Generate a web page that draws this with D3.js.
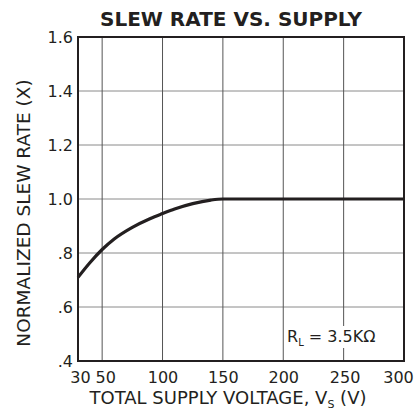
<!DOCTYPE html>
<html>
<head>
<meta charset="utf-8">
<script src="https://cdn.jsdelivr.net/npm/d3@7"></script>
<style>
  body { margin: 0; background: #fff; }
  svg text { font-family: "DejaVu Sans", sans-serif; fill: #231f20; }
</style>
</head>
<body>
<svg id="chart" width="417" height="413"></svg>
<script>
// supply voltage (V) vs normalized slew rate
var voltage = [30, 40, 50, 60, 75, 90, 100, 110, 125, 140, 150, 200, 250, 300];
var slewRate = [0.71, 0.765, 0.813, 0.852, 0.895, 0.928, 0.946, 0.963, 0.983, 0.996, 1.0, 1.0, 1.0, 1.0];
var xTicks = [30, 50, 100, 150, 200, 250, 300];
var xTickShift = [2, 3, 0, 0, 0, 1, -6];
var xGrid = [50, 100, 150, 200, 250];
var yTicks = [0.4, 0.6, 0.8, 1.0, 1.2, 1.4, 1.6];
var yTickLabels = [".4", ".6", ".8", "1.0", "1.2", "1.4", "1.6"];
var yGrid = [0.6, 0.8, 1.0, 1.2, 1.4];

var svg = d3.select("#chart");
var plotL = 78, plotR = 404, plotT = 37, plotB = 361;

var x = d3.scaleLinear().domain([30, 300]).range([plotL, plotR]);
var y = d3.scaleLinear().domain([0.4, 1.6]).range([plotB, plotT]);

// grid
svg.append("g").selectAll("line")
    .data(yGrid).enter().append("line")
    .attr("x1", plotL).attr("x2", plotR)
    .attr("y1", function(d){ return y(d); })
    .attr("y2", function(d){ return y(d); })
    .attr("stroke", "#8a8a8a").attr("stroke-width", 1);

svg.append("g").selectAll("line")
    .data(xGrid).enter().append("line")
    .attr("x1", function(d){ return x(d); })
    .attr("x2", function(d){ return x(d); })
    .attr("y1", plotT).attr("y2", plotB)
    .attr("stroke", "#555").attr("stroke-width", 1);

// annotation box covers grid
svg.append("rect")
    .attr("x", 285).attr("y", 326)
    .attr("width", 100).attr("height", 22)
    .attr("fill", "#fff");

var ann = svg.append("text")
    .attr("x", 287).attr("y", 342)
    .style("font-size", "16px");
ann.append("tspan").text("R");
ann.append("tspan").attr("dy", 4).style("font-size", "10px").text("L");
ann.append("tspan").attr("dy", -4).text(" = 3.5K\u03A9");

// curve
var line = d3.line()
    .x(function(d, i){ return x(voltage[i]); })
    .y(function(d){ return y(d); })
    .curve(d3.curveMonotoneX);

svg.append("path")
    .datum(slewRate)
    .attr("d", line)
    .attr("fill", "none")
    .attr("stroke", "#231f20")
    .attr("stroke-width", 3.2);

// frame
svg.append("rect")
    .attr("x", plotL).attr("y", plotT)
    .attr("width", plotR - plotL).attr("height", plotB - plotT)
    .attr("fill", "none")
    .attr("stroke", "#231f20")
    .attr("stroke-width", 2);

// axes (labels only)
var xAxis = d3.axisBottom(x).tickValues(xTicks).tickSize(0).tickPadding(11);
svg.append("g")
    .attr("transform", "translate(0," + plotB + ")")
    .call(xAxis)
    .call(function(g){ g.select(".domain").remove(); })
    .selectAll("text")
    .attr("dx", function(d, i){ return xTickShift[i]; })
    .style("font-size", "16px")
    .style("font-family", "DejaVu Sans, sans-serif")
    .attr("fill", "#231f20");

var yAxis = d3.axisLeft(y).tickValues(yTicks).tickSize(0).tickPadding(5)
    .tickFormat(function(d, i){ return yTickLabels[i]; });
svg.append("g")
    .attr("transform", "translate(" + plotL + ",0)")
    .call(yAxis)
    .call(function(g){ g.select(".domain").remove(); })
    .selectAll("text")
    .style("font-size", "16px")
    .style("font-family", "DejaVu Sans, sans-serif")
    .attr("fill", "#231f20");

// titles
svg.append("text")
    .attr("x", 231).attr("y", 26)
    .attr("text-anchor", "middle")
    .style("font-size", "20px")
    .style("font-weight", "bold")
    .text("SLEW RATE VS. SUPPLY");

var xl = svg.append("text")
    .attr("x", 228).attr("y", 404)
    .attr("text-anchor", "middle")
    .style("font-size", "18px");
xl.append("tspan").text("TOTAL SUPPLY VOLTAGE, V");
xl.append("tspan").attr("dy", 4).style("font-size", "11px").text("S");
xl.append("tspan").attr("dy", -4).text(" (V)");

svg.append("text")
    .attr("transform", "translate(30,213) rotate(-90)")
    .attr("text-anchor", "middle")
    .style("font-size", "18.5px")
    .text("NORMALIZED SLEW RATE (X)");
</script>
</body>
</html>
